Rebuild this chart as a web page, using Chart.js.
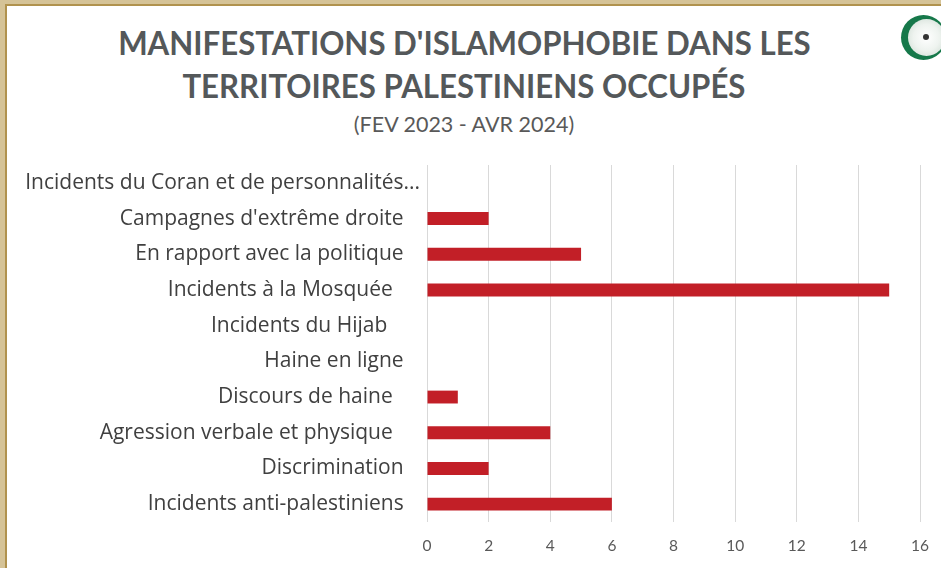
<!DOCTYPE html>
<html>
<head>
<meta charset="utf-8">
<script src="https://cdn.jsdelivr.net/npm/chart.js@4.4.1/dist/chart.umd.min.js"></script>
<style>
  html, body { margin: 0; padding: 0; }
  body { width: 941px; height: 568px; overflow: hidden; position: relative; background: #d5c397; }
  #panel { position: absolute; left: 5px; top: 4px; width: 960px; height: 600px; background: #fff; border: 2px solid #b0924e; }
  #title { position: absolute; left: 0; width: 928px; top: 21px; text-align: center; color: #54585a;
    font-family: Lato, sans-serif; font-weight: 700; font-size: 33px; line-height: 43px; }
  #title span { display: inline-block; transform: scaleX(0.945); white-space: nowrap; }
  #subtitle { position: absolute; left: 0; width: 928px; top: 111px; text-align: center; color: #595959;
    font-family: Lato, sans-serif; font-size: 21.5px; }
  #logo { position: absolute; left: 901px; top: 15px; width: 45px; height: 45px; border-radius: 50%; background: #16784a; }
  #logo div { position: absolute; left: 7px; top: 4px; width: 37px; height: 37px; border-radius: 50%;
    background: radial-gradient(circle at 50% 50%, #fff 0, #eef3ef 50%, #c9d8ce 100%); }
  #logo b { position: absolute; left: 15px; top: 15px; width: 6px; height: 6px; border-radius: 50%; background: #333; }
  #wrap { position: absolute; left: 0; top: 0; width: 941px; height: 568px; }
</style>
</head>
<body>
<div id="panel"></div>
<div id="logo"><div><b></b></div></div>
<div id="title"><span>MANIFESTATIONS D'ISLAMOPHOBIE DANS LES</span><br><span>TERRITOIRES PALESTINIENS OCCUPÉS</span></div>
<div id="subtitle">(FEV 2023 - AVR 2024)</div>
<div id="wrap"><canvas id="myBarChart"></canvas></div>
<script>
// categories, top to bottom as shown
const categories = [
    "Incidents du Coran et de personnalités...",
    "Campagnes d'extrême droite",
    "En rapport avec la politique",
    "Incidents à la Mosquée  ",
    "Incidents du Hijab   ",
    "Haine en ligne",
    "Discours de haine  ",
    "Agression verbale et physique  ",
    "Discrimination",
    "Incidents anti-palestiniens"
]
const incidentCounts = [0, 2, 5, 15, 0, 0, 1, 4, 2, 6]
const xTickMin = 0
const xTickMax = 16
const xTickStep = 2

const ctx = document.getElementById('myBarChart').getContext('2d')
const myBarChart = new Chart(ctx, {
    type: 'bar',
    data: {
        labels: categories,
        datasets: [{
            label: 'Incidents',
            data: incidentCounts,
            backgroundColor: '#c21f27',
            borderWidth: 0,
            categoryPercentage: 1,
            barPercentage: 0.36
        }]
    },
    options: {
        indexAxis: 'y',
        responsive: true,
        maintainAspectRatio: false,
        animation: false,
        layout: { padding: { top: 165, right: 21, bottom: 0, left: 0 } },
        plugins: {
            legend: { display: false },
            tooltip: { enabled: false }
        },
        scales: {
            x: {
                min: xTickMin,
                max: xTickMax,
                ticks: {
                    stepSize: xTickStep,
                    padding: 15,
                    color: '#595959',
                    font: { family: 'Lato', size: 15.5 }
                },
                grid: { color: '#d9d9d9', drawTicks: false },
                border: { display: false },
                afterFit: (scale) => {
                    scale.height = 46
                    // don't let the last tick label push the plot area in
                    scale.paddingLeft = 0
                    scale.paddingRight = 0
                }
            },
            y: {
                ticks: {
                    padding: 7,
                    color: '#404040',
                    font: { family: 'Open Sans', size: 21 },
                    autoSkip: false,
                    // the cut-off label overflows past the others, like in the original
                    callback: function(value, index) {
                        const label = categories[index]
                        return label.endsWith('...') ? label : label + '   '
                    }
                },
                grid: { display: false, drawTicks: false },
                border: { display: false },
                afterFit: (scale) => { scale.width = 427 }
            }
        }
    }
})
</script>
</body>
</html>
